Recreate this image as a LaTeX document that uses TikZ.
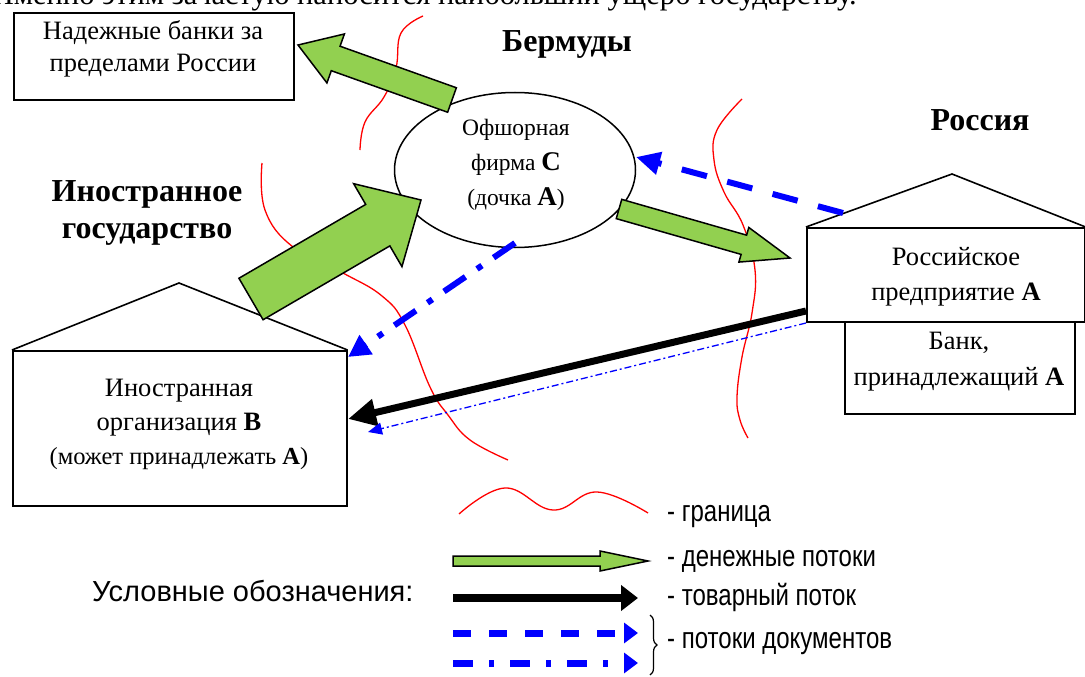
\documentclass[tikz,border=0pt]{standalone}
\usepackage{fontspec}
\setmainfont{Liberation Serif}
\newfontfamily\legfont{Liberation Sans}
\newfontfamily\legnarrow[FakeStretch=0.8]{Liberation Sans}
\usetikzlibrary{shapes.geometric,arrows.meta,calc,decorations.pathreplacing}
\definecolor{moneygreen}{HTML}{92D050}
\definecolor{docblue}{HTML}{0000FF}
\newcommand\greenarrow[5]{%
  \path ($(#2)!#5!(#1)$) coordinate (ga-n);
  \draw[money] (#2) -- ($(ga-n)!#4!90:(#2)$) -- ($(ga-n)!#3!90:(#2)$)
    -- ($(#1)!#3!90:(#2)$) -- ($(#1)!#3!-90:(#2)$) -- ($(ga-n)!#3!-90:(#2)$)
    -- ($(ga-n)!#4!-90:(#2)$) -- cycle;}
\begin{document}
\begin{tikzpicture}[x=1pt,y=-1pt,
  box/.style={draw, fill=white, line width=1.6pt, inner sep=0pt},
  txt/.style={align=center, inner sep=0pt, font=\fontsize{26.5}{33}\selectfont},
  ttl/.style={align=center, inner sep=0pt, font=\bfseries\fontsize{32}{37}\selectfont},
  leg/.style={anchor=west, inner sep=0pt, font=\legnarrow\fontsize{30}{34}\selectfont},
  border/.style={draw=red, line width=1.3pt},
  roof/.style={draw, line width=1.6pt, line join=miter},
  money/.style={draw=black, fill=moneygreen, line width=1.5pt, line join=miter},
  goods/.style={draw=black, line width=7pt, -{Triangle[length=28pt,width=26pt]}},
  docdash/.style={draw=docblue, line width=6pt, dash pattern=on 26pt off 21pt, -{Triangle[length=24pt,width=22pt]}},
  docdot/.style={draw=docblue, line width=6pt, dash pattern=on 26pt off 14pt on 6pt off 14pt, -{Triangle[length=22pt,width=22pt]}},
  docthin/.style={draw=docblue, line width=1.3pt, dash pattern=on 7pt off 3pt on 2pt off 3pt, -{Triangle[length=14pt,width=12pt]}}
]
\useasboundingbox (0,0) rectangle (1085,677);
\clip (0,0) rectangle (1085,677);

% cut-off line of text at the top
\node[anchor=base east, inner sep=0pt, font=\fontsize{30.5}{34}\selectfont] (toptext) at (857,5)
  {Именно этим зачастую наносится наибольший ущерб государству.};

% borders
\draw[border] plot[smooth, tension=0.7] coordinates {(423,16) (401,33) (396,68) (384,97) (365,122) (360,150)};
\draw[border] plot[smooth, tension=0.7] coordinates {(262,163) (265,210) (293,247) (343,273) (382,296) (405,325) (430,387) (448,415) (470,440) (508,460)};
\draw[border] plot[smooth, tension=0.7] coordinates {(742,99) (717,130) (714,160) (724,192) (743,225) (755,270) (752,313) (742,357) (737,397) (740,420) (748,438)};

% boxes
\node[box, minimum width=280pt, minimum height=87pt, anchor=north west] (banks) at (13,12) {};
\node[txt, font=\fontsize{26.5}{32}\selectfont] (banks-t) at (153,49) {Надежные банки за\\пределами России};

\node[ttl] (ber) at (567,44) {Бермуды};
\node[ttl] (rus) at (980,120) {Россия};
\node[ttl, font=\bfseries\fontsize{32}{37}\selectfont] (fs) at (147,213) {Иностранное\\государство};

% foreign organisation B
\node[box, minimum width=334pt, minimum height=155pt, anchor=north west] (B) at (12,350) {};
\coordinate (B-apex) at (179,283);
\draw[roof] (B.north west) -- (B-apex) -- (B.north east);
\node[txt, font=\fontsize{26.5}{34}\selectfont] (B-t) at (179,424) {Иностранная\\организация \textbf{B}\\{\fontsize{24.5}{34}\selectfont(может принадлежать \textbf{A})}};

% bank and Russian enterprise A
\node[box, minimum width=230pt, minimum height=92pt, anchor=north west] (bank) at (844,321) {};
\node[txt, font=\fontsize{26.5}{36}\selectfont] (bank-t) at (959,362) {Банк,\\принадлежащий \textbf{A}};
\node[box, minimum width=278pt, minimum height=94pt, anchor=north west] (A) at (806,227) {};
\coordinate (A-apex) at (952,174);
\draw[roof] (A.north west) -- (A-apex) -- (A.north east);
\node[txt, font=\fontsize{26.5}{35}\selectfont] (A-t) at (956,277) {Российское\\предприятие \textbf{A}};

% offshore firm C
\node[draw, ellipse, fill=white, line width=1.5pt, minimum width=241pt, minimum height=155pt, inner sep=0pt] (C) at (515,170) {};
\node[txt, font=\fontsize{23.5}{35}\selectfont] (C-t) at (516,165) {Офшорная\\фирма {\fontsize{27}{35}\selectfont\textbf{C}}\\(дочка {\fontsize{27}{35}\selectfont\textbf{A}})};

% connector end points
\coordinate (m1s) at (452,100); \coordinate (m1e) at (298,45);
\coordinate (m2s) at (251,299); \coordinate (m2e) at (421,200);
\coordinate (m3s) at (619,209); \coordinate (m3e) at (790,258);
\coordinate (g1) at (806,311); \coordinate (g2) at (348,419);
\coordinate (d1) at (843,213); \coordinate (d2) at (636,157);
\coordinate (e1) at (515,243); \coordinate (e2) at (348,357);
\coordinate (t1) at (806,323); \coordinate (t2) at (368,432);

% money flows
\greenarrow{m1s}{m1e}{13pt}{26pt}{40pt}
\greenarrow{m2s}{m2e}{24pt}{48pt}{50pt}
\greenarrow{m3s}{m3e}{10pt}{18pt}{48pt}

% goods flow and document flows
\draw[goods] (g1) -- (g2);
\draw[docthin] (t1) -- (t2);
\draw[docdash] (d1) -- (d2);
\draw[docdot] (e1) -- (e2);

% legend
\node[anchor=west, inner sep=0pt, font=\legfont\fontsize{29}{34}\selectfont] (legtitle) at (92,591) {Условные обозначения:};
\draw[border] plot[smooth, tension=0.7] coordinates {(459,514) (505,488) (553,510) (597,492) (648,513)};
\coordinate (L1s) at (453,561); \coordinate (L1e) at (648,561);
\greenarrow{L1s}{L1e}{5pt}{10pt}{48pt}
\coordinate (L2s) at (453,598); \coordinate (L2e) at (638,598);
\draw[draw=black, line width=8pt, -{Triangle[length=17pt,width=25pt]}] (L2s) -- (L2e);
\coordinate (L3s) at (453,633); \coordinate (L3e) at (638,633);
\draw[draw=docblue, line width=7pt, dash pattern=on 18pt off 18pt, -{Triangle[length=14pt,width=20pt]}] (L3s) -- (L3e);
\coordinate (L4s) at (453,663); \coordinate (L4e) at (638,663);
\draw[draw=docblue, line width=7pt, dash pattern=on 20pt off 16pt on 5pt off 16pt, -{Triangle[length=14pt,width=20pt]}] (L4s) -- (L4e);
\coordinate (br1) at (650,615); \coordinate (br2) at (650,675);
\draw[decorate, decoration={brace, amplitude=7pt}, line width=1.2pt] (br1) -- (br2);
\node[leg] (lg1) at (667,517) {- граница};
\node[leg] (lg2) at (667,561) {- денежные потоки};
\node[leg] (lg3) at (667,597) {- товарный поток};
\node[leg] (lg4) at (667,644) {- потоки документов};
\end{tikzpicture}
\end{document}
